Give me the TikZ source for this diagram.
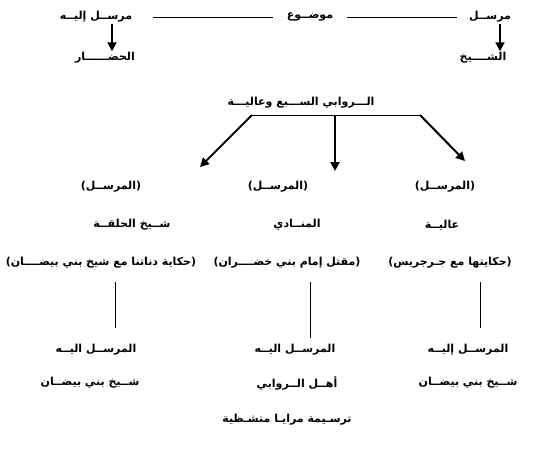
\documentclass[tikz,border=0pt]{standalone}
\usepackage{fontspec}
\usetikzlibrary{arrows.meta}
\TeXXeTstate=1
\newfontfamily\arabicfont[Script=Arabic]{DejaVu Sans}
\newcommand{\ar}[1]{{\arabicfont\bfseries\beginR #1\endR}}
\begin{document}
\begin{tikzpicture}[x=1pt,y=-1pt,
  lbl/.style={inner sep=1pt,font=\fontsize{11}{13}\selectfont},
  ln/.style={line width=0.7pt},
  arr/.style={line width=2pt,-{Triangle[width=9pt,length=9pt]}}]
\useasboundingbox[fill=white] (0,0) rectangle (539,451);
% top row
\node[lbl] (mursil) at (490,17) {\ar{مرســل}};
\node[lbl] (mawdu) at (310,17) {\ar{موضــوع}};
\node[lbl] (mursililayh) at (96,17) {\ar{مرســل إليــه}};
\node[lbl] (hudar) at (105,58) {\ar{الحضــــــار}};
\node[lbl] (shaykh) at (483,58) {\ar{الشــــيخ}};
\draw[ln] (153,17) -- (273,17);
\draw[ln] (347,17) -- (457,17);
\draw[arr] (mursililayh.south -| 112,0) -- (hudar.north -| 112,0);
\draw[arr] (mursil.south -| 500,0) -- (shaykh.north -| 500,0);
% title
\node[lbl] (rawabi) at (301,103) {\ar{الـــروابي الســـبع وعاليـــة}};
\coordinate (barL) at (252,115);
\coordinate (barM) at (335,115);
\coordinate (barR) at (420,115);
\coordinate (tipL) at (200,167);
\coordinate (tipM) at (335,171);
\coordinate (tipR) at (465,161);
\draw[ln,line width=1pt] (barL) -- (barR);
\draw[arr] (barL) -- (tipL);
\draw[arr] (barM) -- (tipM);
\draw[arr] (barR) -- (tipR);
% sender row
\node[lbl] (sL) at (111,187) {\ar{(المرســل)}};
\node[lbl] (sM) at (278,187) {\ar{(المرســل)}};
\node[lbl] (sR) at (445,187) {\ar{(المرســل)}};
\node[lbl] (nL) at (132,225) {\ar{شــيخ الحلقــة}};
\node[lbl] (nM) at (297,225) {\ar{المنــادي}};
\node[lbl] (nR) at (442,225) {\ar{عاليــة}};
\node[lbl] (tL) at (101,263) {\ar{(حكاية دناتنا مع شيخ بني بيضــــان)}};
\node[lbl] (tM) at (287,263) {\ar{(مقتل إمام بني خضــــران)}};
\node[lbl] (tR) at (450,263) {\ar{(حكايتها مع جـرجريس)}};
% receiver row
\node[lbl] (rL) at (96,350) {\ar{المرســل اليــه}};
\node[lbl] (rM) at (295,350) {\ar{المرســل اليــه}};
\node[lbl] (rR) at (468,350) {\ar{المرســل إليــه}};
\draw[ln] (115,282) -- (115,328);
\draw[ln] (310,282) -- (310,338);
\draw[ln] (480,282) -- (480,328);
\node[lbl] (bL) at (90,383) {\ar{شــيخ بني بيضــان}};
\node[lbl] (bM) at (297,383) {\ar{أهــل الــروابي}};
\node[lbl] (bR) at (468,383) {\ar{شــيخ بني بيضــان}};
\node[lbl] (cap) at (287,420) {\ar{ترسـيمة مرايـا متشـظية}};
\end{tikzpicture}
\end{document}
